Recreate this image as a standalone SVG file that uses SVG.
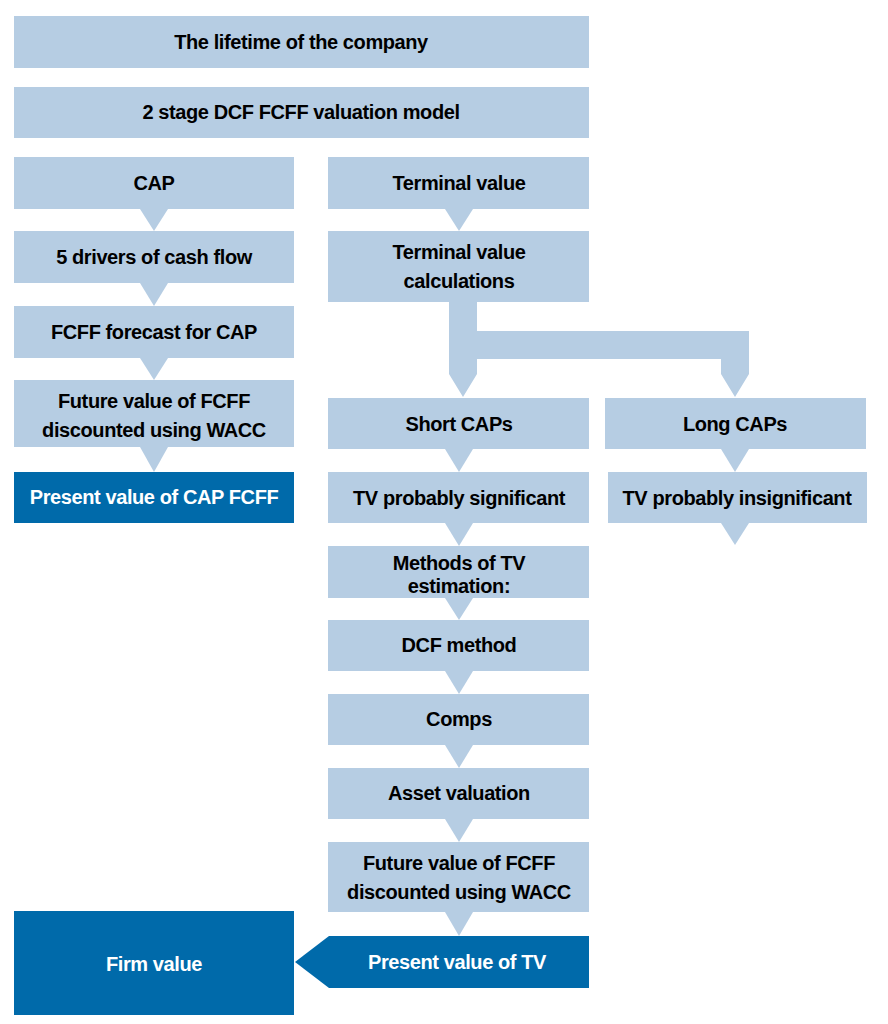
<svg xmlns="http://www.w3.org/2000/svg" width="888" height="1024" viewBox="0 0 888 1024">
<style>
.l{fill:#b6cde3}.d{fill:#006aaa}
text{font-family:"Liberation Sans",Arial,sans-serif;font-weight:bold;font-size:20px;text-anchor:middle;letter-spacing:-0.4px}
.t{fill:#000}.w{fill:#fff}
</style>
<rect width="888" height="1024" fill="#fff"/>
<g id="connectors" class="l">
<polygon points="140,209 168,209 154,231"/>
<polygon points="140,283 168,283 154,306"/>
<polygon points="140,358 168,358 154,380"/>
<polygon points="140,447 168,447 154,472"/>
<polygon points="445,209 473,209 459,231"/>
<path d="M449,302 H477 V331 H749 V374 L735,397 L721,374 V359 H477 V374 L463,397 L449,374 Z"/>
<polygon points="445,449 473,449 459,472"/>
<polygon points="721,449 749,449 735,472"/>
<polygon points="721,523 749,523 735,545"/>
<polygon points="445,523 473,523 459,546"/>
<polygon points="445,598 473,598 459,620"/>
<polygon points="445,671 473,671 459,694"/>
<polygon points="445,745 473,745 459,768"/>
<polygon points="445,819 473,819 459,842"/>
<polygon points="445,912 473,912 459,936"/>
</g>
<g id="n1"><rect class="l" x="14" y="16" width="575" height="52"/><text class="t" x="301" y="49">The lifetime of the company</text></g>
<g id="n2"><rect class="l" x="14" y="87" width="575" height="51"/><text class="t" x="301" y="119">2 stage DCF FCFF valuation model</text></g>
<g id="n3"><rect class="l" x="14" y="157" width="280" height="52"/><text class="t" x="154" y="190">CAP</text></g>
<g id="n4"><rect class="l" x="14" y="231" width="280" height="52"/><text class="t" x="154" y="264">5 drivers of cash flow</text></g>
<g id="n5"><rect class="l" x="14" y="306" width="280" height="52"/><text class="t" x="154" y="339">FCFF forecast for CAP</text></g>
<g id="n6"><rect class="l" x="14" y="380" width="280" height="67"/><text class="t" x="154" y="408">Future value of FCFF</text><text class="t" x="154" y="437">discounted using WACC</text></g>
<g id="n7"><rect class="d" x="14" y="472" width="280" height="51"/><text class="w" x="154" y="504">Present value of CAP FCFF</text></g>
<g id="n8"><rect class="l" x="328" y="157" width="261" height="52"/><text class="t" x="459" y="190">Terminal value</text></g>
<g id="n9"><rect class="l" x="328" y="231" width="261" height="71"/><text class="t" x="459" y="259">Terminal value</text><text class="t" x="459" y="288">calculations</text></g>
<g id="n10"><rect class="l" x="328" y="398" width="261" height="51"/><text class="t" x="459" y="431">Short CAPs</text></g>
<g id="n11"><rect class="l" x="605" y="398" width="261" height="51"/><text class="t" x="735" y="431">Long CAPs</text></g>
<g id="n12"><rect class="l" x="328" y="472" width="261" height="51"/><text class="t" x="459" y="505">TV probably significant</text></g>
<g id="n13"><rect class="l" x="608" y="472" width="259" height="51"/><text class="t" x="737" y="505">TV probably insignificant</text></g>
<g id="n14"><rect class="l" x="328" y="546" width="261" height="52"/><text class="t" x="459" y="570">Methods of TV</text><text class="t" x="459" y="593">estimation:</text></g>
<g id="n15"><rect class="l" x="328" y="620" width="261" height="51"/><text class="t" x="459" y="652">DCF method</text></g>
<g id="n16"><rect class="l" x="328" y="694" width="261" height="51"/><text class="t" x="459" y="726">Comps</text></g>
<g id="n17"><rect class="l" x="328" y="768" width="261" height="51"/><text class="t" x="459" y="800">Asset valuation</text></g>
<g id="n18"><rect class="l" x="328" y="842" width="261" height="70"/><text class="t" x="459" y="870">Future value of FCFF</text><text class="t" x="459" y="899">discounted using WACC</text></g>
<g id="n19"><polygon class="d" points="329,936 589,936 589,988 329,988 295,962"/><text class="w" x="457" y="969">Present value of TV</text></g>
<g id="n20"><rect class="d" x="14" y="911" width="280" height="104"/><text class="w" x="154" y="971">Firm value</text></g>
</svg>
